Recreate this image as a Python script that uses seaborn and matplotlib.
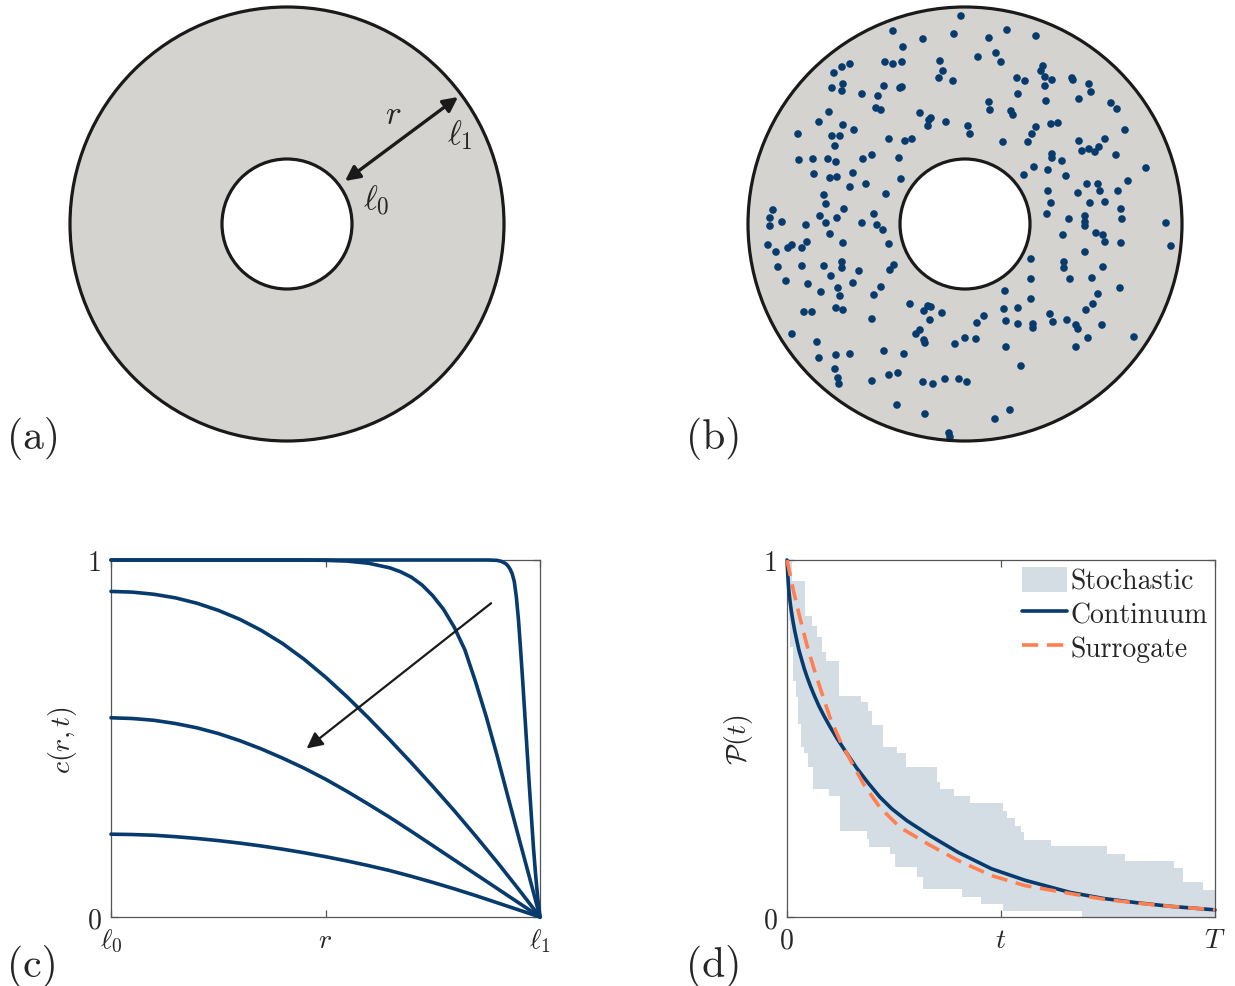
import numpy as np
import matplotlib
matplotlib.use("Agg")
import matplotlib.pyplot as plt
import seaborn as sns
from matplotlib.patches import Wedge, Circle, Patch
from matplotlib.lines import Line2D

# ---------------- data ----------------
# annulus radii (same units as particle positions)
ell0 = 65
ell1 = 217

# panel (b): particle positions relative to the annulus centre
dots_x = [-4, -72, -42, -11, 24, -62, 13, -80, -72, -63, -25, -22, -26, -12, -115, -123, -131, -122,
          -133, -123, -81, -65, -63, -103, -87, 24, 25, -136, -89, -84, -45, -34, -36, -37, -19, 3, 5,
          -146, -122, -111, -167, -133, -125, -130, -76, -60, -53, -166, -152, -137, -129, -102, -93,
          -66, -151, -135, -128, -112, -115, -99, -64, -79, -141, -139, -192, -195, -195, -183, -159,
          -145, -139, -128, -121, -103, -91, -88, -82,
          42, 71, 31, 36, 78, 76, 80, 87, 52, 60, 107, 108, 80, 124, 126, 53, 114, 81, 146, 152, 46,
          48, 71, 67, 86, 93, 63, 38, 160, 114, 140, 117, 124, 130, 134, 87, 87, 151, 97, 69, 83, 59,
          101, 181, 122, 133, 163, 83, 113, 135, 153, 86, 125, 140, 156, 82, 104, 120, 120, 120, 157, 201,
          98, 131, 138, 140, 156, 206, 120, 66, 99, 99, 138, 66, 105, 127, 155, 40, 133, 66, 128, 39,
          53, 121, 85, 88, 102, 41, 53, 68, 68, 111, 113, 137, 123, 169, 41, 111, 56, 45, 30,
          -135, -122, -158, -163, -173, -177, -197, -189, -76, -187, -163, -141, -123, -123, -134, -106,
          -71, -75, -179, -157, -112, -144, -127, -125, -84, -91, -55, -37, -34, -41, -23, -35, 19, 12,
          -161, -153, -129, -122, -93, -45, -49, -41, -40, -10, 0, 11, -173, -148, -146, -129, -115,
          -81, -61, -130, -127, -126, -93, -76, -67, -42, -32, -20, -6, 2, -68, -40, -16, -15]
dots_y = [208, 193, 185, 190, 186, 177, 167, 162, 160, 162, 163, 153, 146, 143, 160, 157, 151, 140,
          136, 133, 138, 136, 137, 130, 128, 122, 114, 112, 116, 114, 111, 106, 104, 98, 102, 98, 90,
          102, 99, 94, 90, 88, 88, 78, 85, 83, 85, 64, 65, 65, 62, 65, 69,
          66, 50, 46, 47, 51, 37, 40, 45, 30, 29, 20, 14, 6, -2, 2, -1,
          8, 1, 6, 15, 1, 10, -1, -6,
          194, 188, 171, 162, 158, 153, 147, 144, 146, 143, 146, 144, 138, 140, 132, 130, 125, 123, 121,
          115, 113, 109, 97, 90, 100, 101, 82, 82, 94, 83, 85, 73, 75, 72, 77, 70, 66, 69, 63, 57, 54,
          49, 48, 56, 40, 40, 43, 33, 31, 33, 33, 21, 21, 22, 15, 10, 5, 8, 2, -2, 5, 1,
          -11, -9, -11, -18, -19, -22, -28, -35, -38, -44, -43, -55, -55, -54, -64, -67, -70, -75, -80,
          -85, -84, -86, -90, -98, -96, -97, -100, -100, -104, -101, -105, -101, -114, -113, -123, -123,
          -142, -186, -195,
          -10, -19, -18, -24, -21, -24, -21, -28, -20, -43, -42, -42, -38, -44, -52, -47, -41, -46, -57,
          -60, -59, -68, -64, -72, -63, -71, -80, -82, -83, -87, -89, -96, -92, -99, -88, -88, -84, -86,
          -95, -106, -110, -116, -119, -120, -114, -115, -110, -118, -134, -131, -130, -127, -130, -145,
          -154, -160, -157, -151, -149, -158, -160, -155, -155, -158, -181, -190, -209, -213]

# panel (c): concentration profiles c(r, t), r scaled from ell0 (0) to ell1 (1)
r1 = [0, 0.88, 0.90, 0.91, 0.92, 0.925, 0.93, 0.935, 0.94, 0.945, 0.95, 0.955, 0.96, 0.965, 0.97,
      0.975, 0.98, 0.985, 0.99, 0.995, 1.0]
c1 = [1.0, 1.0, 0.999, 0.996, 0.99, 0.984, 0.975, 0.962, 0.94, 0.895, 0.83, 0.745, 0.655, 0.56, 0.465,
      0.37, 0.28, 0.19, 0.115, 0.05, 0.0]
r2 = [0, 0.45, 0.50, 0.55, 0.60, 0.65, 0.675, 0.70, 0.725, 0.75, 0.775, 0.80, 0.825, 0.85, 0.875,
      0.90, 0.925, 0.95, 0.975, 1.0]
c2 = [1.0, 1.0, 0.999, 0.997, 0.991, 0.978, 0.967, 0.952, 0.93, 0.90, 0.862, 0.812, 0.748, 0.658, 0.56,
      0.452, 0.338, 0.225, 0.113, 0.0]
r3 = [0, 0.05, 0.1, 0.15, 0.2, 0.25, 0.3, 0.35, 0.4, 0.45, 0.5, 0.55, 0.6, 0.65, 0.7, 0.75, 0.8,
      0.85, 0.9, 0.95, 1.0]
c3 = [0.912, 0.910, 0.904, 0.894, 0.879, 0.859, 0.834, 0.803, 0.766, 0.722, 0.672, 0.617, 0.558, 0.496,
      0.432, 0.366, 0.298, 0.227, 0.154, 0.078, 0.0]
c4 = [0.558, 0.556, 0.551, 0.542, 0.530, 0.514, 0.494, 0.471, 0.445, 0.417, 0.386, 0.352, 0.316, 0.279,
      0.240, 0.200, 0.160, 0.120, 0.080, 0.040, 0.0]
c5 = [0.232, 0.231, 0.229, 0.225, 0.220, 0.214, 0.207, 0.199, 0.190, 0.180, 0.169, 0.157, 0.144, 0.130,
      0.114, 0.097, 0.079, 0.060, 0.040, 0.020, 0.0]

# panel (d): survival probability
t_cont = [0, 0.002, 0.004, 0.007, 0.010, 0.014, 0.018, 0.023, 0.028, 0.034, 0.040, 0.047, 0.055, 0.065,
          0.075, 0.087, 0.100, 0.117, 0.135, 0.150, 0.163, 0.190, 0.217, 0.245, 0.280, 0.334, 0.400,
          0.478, 0.556, 0.661, 0.739, 0.817, 0.895, 1.0]
P_cont = [1.0, 0.955, 0.918, 0.885, 0.858, 0.828, 0.802, 0.774, 0.747, 0.722, 0.697, 0.672, 0.646, 0.617,
          0.590, 0.562, 0.534, 0.500, 0.467, 0.440, 0.417, 0.375, 0.336, 0.303, 0.270, 0.228, 0.181,
          0.135, 0.103, 0.069, 0.052, 0.040, 0.030, 0.020]
t_sur = [0, 0.015, 0.030, 0.046, 0.062, 0.077, 0.100, 0.124, 0.151, 0.179, 0.217, 0.264, 0.330,
         0.400, 0.478, 0.556, 0.665, 0.739, 0.817, 0.895, 1.0]
P_sur = [1.0, 0.914, 0.839, 0.764, 0.699, 0.643, 0.560, 0.494, 0.433, 0.372, 0.307, 0.251, 0.204,
         0.158, 0.116, 0.088, 0.065, 0.050, 0.039, 0.030, 0.020]
t_up = [0, 0.011, 0.042, 0.059, 0.069, 0.081, 0.090, 0.121, 0.174, 0.190, 0.198, 0.225, 0.256, 0.278,
        0.350, 0.357, 0.390, 0.428, 0.505, 0.513, 0.533, 0.546, 0.554, 0.617, 0.747, 0.790, 0.904,
        0.926, 0.971, 1.0]
P_up = [1.0, 0.942, 0.844, 0.816, 0.783, 0.741, 0.718, 0.620, 0.601, 0.578, 0.539, 0.477, 0.458, 0.419,
        0.377, 0.359, 0.338, 0.318, 0.298, 0.276, 0.256, 0.237, 0.217, 0.198, 0.176, 0.156, 0.137,
        0.097, 0.077, 0.077]
t_low = [0, 0.001, 0.004, 0.007, 0.015, 0.020, 0.026, 0.032, 0.040, 0.050, 0.060, 0.098, 0.124, 0.186,
         0.192, 0.241, 0.252, 0.303, 0.317, 0.408, 0.453, 0.504, 0.689, 1.0]
P_low = [1.0, 0.905, 0.83, 0.755, 0.662, 0.615, 0.541, 0.477, 0.458, 0.419, 0.359, 0.340, 0.242, 0.218,
         0.197, 0.176, 0.139, 0.111, 0.078, 0.057, 0.036, 0.018, 0.0, 0.0]

# ---------------- style ----------------
BLUE = "#073a6d"
ORANGE = "#ff7f50"
BAND = "#d5dde4"
FILL = "#d4d3d0"
SPINE = "#555555"
FS = 20
LW = 2.6

sns.set_theme(style="white")
plt.rcParams.update({
    "font.family": "serif",
    "font.serif": ["cmr10"],
    "mathtext.fontset": "cm",
    "axes.unicode_minus": False,
    "axes.formatter.use_mathtext": True,
})

W, H = 1235, 987
fig = plt.figure(figsize=(W / 100, H / 100), dpi=100)


def px_axes(left, top, right, bottom):
    return fig.add_axes([left / W, 1 - bottom / H, (right - left) / W, (bottom - top) / H])


def draw_annulus(ax):
    ax.add_patch(Wedge((0, 0), ell1, 0, 360, width=ell1 - ell0, facecolor=FILL, edgecolor="none", zorder=1))
    ax.add_patch(Circle((0, 0), ell1, fill=False, lw=2.3, ec="k", zorder=4))
    ax.add_patch(Circle((0, 0), ell0, fill=False, lw=2.3, ec="k", zorder=4))
    ax.set_xlim(-223, 223)
    ax.set_ylim(-223, 223)
    ax.axis("off")


# (a)
ax_a = px_axes(64, 2, 510, 448)
draw_annulus(ax_a)
ax_a.annotate("", xy=(171, 127), xytext=(58, 43),
              arrowprops=dict(arrowstyle="<|-|>", lw=2.4, color="k", mutation_scale=22, shrinkA=0, shrinkB=0))
ax_a.text(106, 110, r"$r$", fontsize=24, ha="center", va="center")
ax_a.text(173, 90, r"$\ell_1$", fontsize=24, ha="center", va="center")
ax_a.text(89, 25, r"$\ell_0$", fontsize=24, ha="center", va="center")

# (b)
ax_b = px_axes(742, 2, 1188, 448)
sns.scatterplot(x=dots_x, y=dots_y, ax=ax_b, color=BLUE, s=30, edgecolor="none", zorder=3)
draw_annulus(ax_b)


def style_axes(ax):
    for sp in ax.spines.values():
        sp.set_color(SPINE)
        sp.set_linewidth(0.9)
        sp.set_visible(True)
    ax.tick_params(direction="in", length=5, width=0.9, color=SPINE, top=True, right=True,
                   labelsize=FS, pad=7, bottom=True, left=True)
    ax.set_xlim(0, 1)
    ax.set_ylim(0, 1)
    ax.grid(False)


# (c)
ax_c = px_axes(111, 561, 540, 918)
profiles = [(r1, c1), (r2, c2), (r3, c3), (r3, c4), (r3, c5)]
for rr, cc in profiles:
    sns.lineplot(x=rr, y=cc, ax=ax_c, color=BLUE, lw=LW, clip_on=False, zorder=3)
ax_c.annotate("", xy=(0.456, 0.472), xytext=(0.886, 0.879),
              arrowprops=dict(arrowstyle="-|>", lw=1.6, color="k", mutation_scale=24, shrinkA=0, shrinkB=0))
style_axes(ax_c)
ax_c.set_xticks([0, 0.5, 1], [r"$\ell_0$", r"$r$", r"$\ell_1$"])
ax_c.set_yticks([0, 1], ["0", "1"])
ax_c.set_ylabel(r"$c(r,t)$", fontsize=FS, labelpad=6)

# (d)
ax_d = px_axes(787, 561, 1215, 918)


def step_xy(t, v):
    t = np.asarray(t)
    v = np.asarray(v)
    return np.repeat(t, 2)[1:], np.repeat(v, 2)[:-1]


xu, yu = step_xy(t_up, P_up)
xl, yl = step_xy(t_low, P_low)
ax_d.fill(np.concatenate([xu, xl[::-1]]), np.concatenate([yu, yl[::-1]]), color=BAND, lw=0, zorder=1)
sns.lineplot(x=t_cont, y=P_cont, ax=ax_d, color=BLUE, lw=LW, clip_on=False, zorder=3)
sns.lineplot(x=t_sur, y=P_sur, ax=ax_d, color=ORANGE, lw=LW, linestyle=(0, (4.5, 2.4)), clip_on=False, zorder=4)
style_axes(ax_d)
ax_d.set_xticks([0, 0.5, 1], ["0", r"$t$", r"$T$"])
ax_d.set_yticks([0, 1], ["0", "1"])
ax_d.set_ylabel(r"$\mathcal{P}(t)$", fontsize=FS, labelpad=6)

handles = [Patch(facecolor=BAND, edgecolor="none"),
           Line2D([], [], color=BLUE, lw=LW),
           Line2D([], [], color=ORANGE, lw=LW, linestyle=(0, (4.5, 2.4)))]
ax_d.legend(handles, ["Stochastic", "Continuum", "Surrogate"], loc="upper right", frameon=False,
            fontsize=FS, handlelength=1.6, handleheight=1.0, handletextpad=0.15,
            labelspacing=0.2, borderaxespad=0.05, borderpad=0.2)

# panel letters
for x, y, s in [(7, 438, "(a)"), (686, 438, "(b)"), (7, 967, "(c)"), (686, 967, "(d)")]:
    fig.text(x / W, 1 - y / H, s, fontsize=30, ha="left", va="center")

fig.savefig("out.png", dpi=100)
